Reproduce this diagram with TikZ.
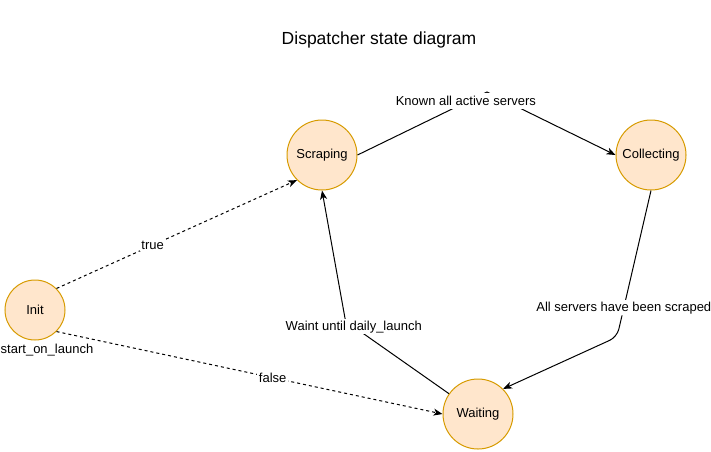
\documentclass[tikz,border=0pt]{standalone}
\usepackage{fontspec}
\setmainfont{Liberation Sans}
\usepackage{xcolor}
\usetikzlibrary{arrows.meta}
\definecolor{statefill}{HTML}{FFE6CC}
\definecolor{stateline}{HTML}{D79B00}

\begin{document}
\begin{tikzpicture}[x=1pt,y=-1pt,>=Stealth,
 state/.style={circle,draw=stateline,fill=statefill,line width=1pt,
   minimum size=70pt,inner sep=0pt,font=\fontsize{13}{15}\selectfont},
 trans/.style={->,line width=1pt,
   arrows={-Stealth[length=9pt,width=7pt,inset=2.5pt]}},
 cond/.style={trans,dash pattern=on 3pt off 3pt},
 lbl/.style={fill=white,inner sep=1.5pt,font=\fontsize{13}{15}\selectfont}]
\useasboundingbox (0,0) rectangle (711,451);
\node[font=\fontsize{17.5}{20}\selectfont] (title) at (379,40)
  {Dispatcher state diagram};

% States of the dispatcher.
\node[state,minimum size=60pt] (init) at (35,310) {Init};
\node[state] (scraping) at (322,155) {Scraping};
\node[state] (collecting) at (651,155) {Collecting};
\node[state] (waiting) at (478,414) {Waiting};
\node[lbl,fill=none] (launch) at (47,350) {start\_on\_launch};

% Bend points of the routed transitions.
\coordinate (peak) at (487,92);
\coordinate (corner) at (617,337);
\coordinate (bend) at (345.5,321);

% Start-up choice, depending on start_on_launch.
\draw[cond] (init.45) -- node[lbl,pos=0.4] {true} (scraping.225);
\draw[cond] (init.-45) -- node[lbl,pos=0.56] {false} (waiting.180);

% Main cycle.
\draw[trans] (scraping.east)
  -- node[lbl,pos=0.86,inner ysep=3pt,xshift=-3pt] {Known all active servers}
  (peak) -- (collecting.west);
\draw[trans,rounded corners=8pt] (collecting.south)
  -- node[lbl,pos=0.8] {All servers have been scraped} (corner)
  -- (waiting.45);
\draw[trans] (waiting.145) -- node[lbl,pos=0.92] {Waint until daily\_launch}
  (bend) -- (scraping.south);
\end{tikzpicture}
\end{document}
